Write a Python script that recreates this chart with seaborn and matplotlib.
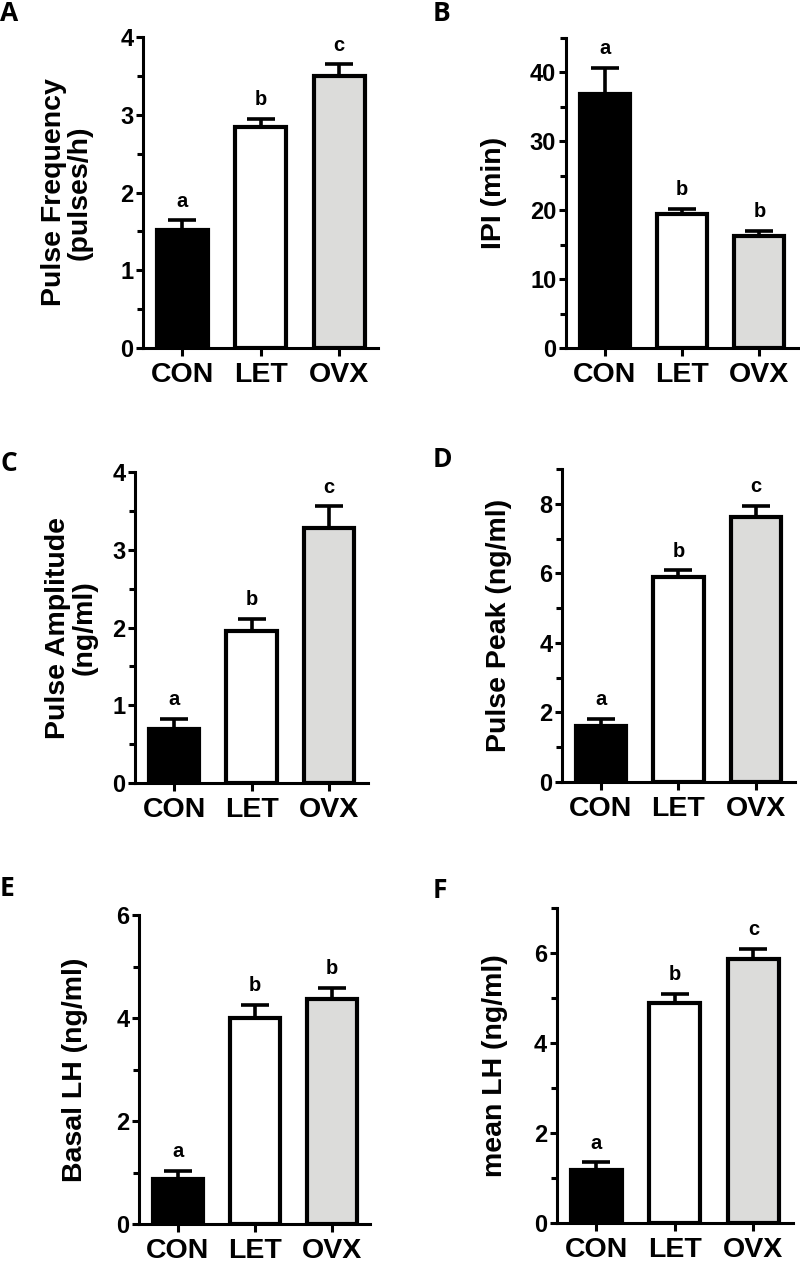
import matplotlib
matplotlib.use("Agg")
import matplotlib.pyplot as plt
import numpy as np
import pandas as pd
import seaborn as sns
from matplotlib.ticker import MultipleLocator

# Data (mean, upper SEM)
groups = ["CON", "LET", "OVX"]
bar_colors = ["#000000", "#ffffff", "#dcdcda"]

freq_mean = [1.52, 2.84, 3.50]
freq_sem = [0.12, 0.11, 0.15]
freq_letters = ["a", "b", "c"]

ipi_mean = [36.8, 19.5, 16.2]
ipi_sem = [3.9, 0.7, 0.8]
ipi_letters = ["a", "b", "b"]

amp_mean = [0.70, 1.96, 3.28]
amp_sem = [0.13, 0.15, 0.28]
amp_letters = ["a", "b", "c"]

peak_mean = [1.61, 5.90, 7.62]
peak_sem = [0.21, 0.19, 0.33]
peak_letters = ["a", "b", "c"]

basal_mean = [0.88, 4.00, 4.37]
basal_sem = [0.15, 0.25, 0.22]
basal_letters = ["a", "b", "b"]

meanlh_mean = [1.18, 4.90, 5.87]
meanlh_sem = [0.17, 0.19, 0.23]
meanlh_letters = ["a", "b", "c"]

sns.set_theme(style="ticks")
plt.rcParams.update({
    "font.family": ["Liberation Sans", "DejaVu Sans"],
    "font.weight": "bold",
    "axes.labelweight": "bold",
    "axes.linewidth": 2.2,
    "text.color": "black",
    "axes.labelcolor": "black",
    "axes.edgecolor": "black",
    "xtick.color": "black",
    "ytick.color": "black",
})

fig = plt.figure(figsize=(8, 12.64), dpi=100)


def bar_panel(rect, mean, sem, letters, ylabel, ymax, major, minor, label_x, tag, tag_xy):
    ax = fig.add_axes(rect)
    df = pd.DataFrame({"group": groups, "value": mean})
    sns.barplot(data=df, x="group", y="value", hue="group", palette=bar_colors,
                legend=False, width=0.65, edgecolor="black", linewidth=3,
                errorbar=None, ax=ax)
    xs = np.arange(len(groups))
    ax.errorbar(xs, mean, yerr=[np.zeros(len(sem)), sem], fmt="none",
                ecolor="black", elinewidth=2.6, capsize=10, capthick=2.6, zorder=0.5)
    for x, m, s, l in zip(xs, mean, sem, letters):
        ax.annotate(l, (x, m + s), xytext=(0, 7), textcoords="offset points",
                    ha="center", va="bottom", fontsize=14.5, fontweight="bold")
    ax.set_xlim(-0.5, 2.5)
    ax.set_ylim(0, ymax)
    ax.yaxis.set_major_locator(MultipleLocator(major))
    ax.yaxis.set_minor_locator(MultipleLocator(minor))
    ax.tick_params(axis="y", which="major", length=5, width=2.2, labelsize=17, pad=2)
    ax.tick_params(axis="y", which="minor", length=4, width=2.2)
    ax.tick_params(axis="x", which="major", length=6, width=2.2, labelsize=20.5, pad=4)
    for t in ax.get_xticklabels() + ax.get_yticklabels():
        t.set_fontweight("bold")
    sns.despine(ax=ax)
    ax.set_xlabel("")
    ax.set_ylabel(ylabel, fontsize=20.5, fontweight="bold", linespacing=1.0)
    ax.yaxis.set_label_coords(label_x, 0.5)
    fig.text(tag_xy[0], tag_xy[1], tag, fontsize=19, fontweight="bold",
             family=["Open Sans", "DejaVu Sans"], ha="left", va="top")
    return ax


bar_panel([0.179, 0.7247, 0.294, 0.246], freq_mean, freq_sem, freq_letters,
          "Pulse Frequency\n(pulses/h)", 4, 1, 0.5, -0.213, "A", (0.0, 1.0))
bar_panel([0.7075, 0.7247, 0.290, 0.2453], ipi_mean, ipi_sem, ipi_letters,
          "IPI (min)", 45, 10, 5, -0.254, "B", (0.541, 1.0))
bar_panel([0.169, 0.3805, 0.291, 0.246], amp_mean, amp_sem, amp_letters,
          "Pulse Amplitude\n(ng/ml)", 4, 1, 0.5, -0.163, "C", (0.0, 0.644))
bar_panel([0.7025, 0.3813, 0.291, 0.2476], peak_mean, peak_sem, peak_letters,
          "Pulse Peak (ng/ml)", 9, 2, 1, -0.215, "D", (0.541, 0.647))
bar_panel([0.174, 0.0316, 0.289, 0.2445], basal_mean, basal_sem, basal_letters,
          "Basal LH (ng/ml)", 6, 2, 1, -0.22, "E", (0.0, 0.308))
bar_panel([0.696, 0.0324, 0.295, 0.249], meanlh_mean, meanlh_sem, meanlh_letters,
          "mean LH (ng/ml)", 7, 2, 1, -0.208, "F", (0.541, 0.306))

fig.savefig("out.png", dpi=100)
